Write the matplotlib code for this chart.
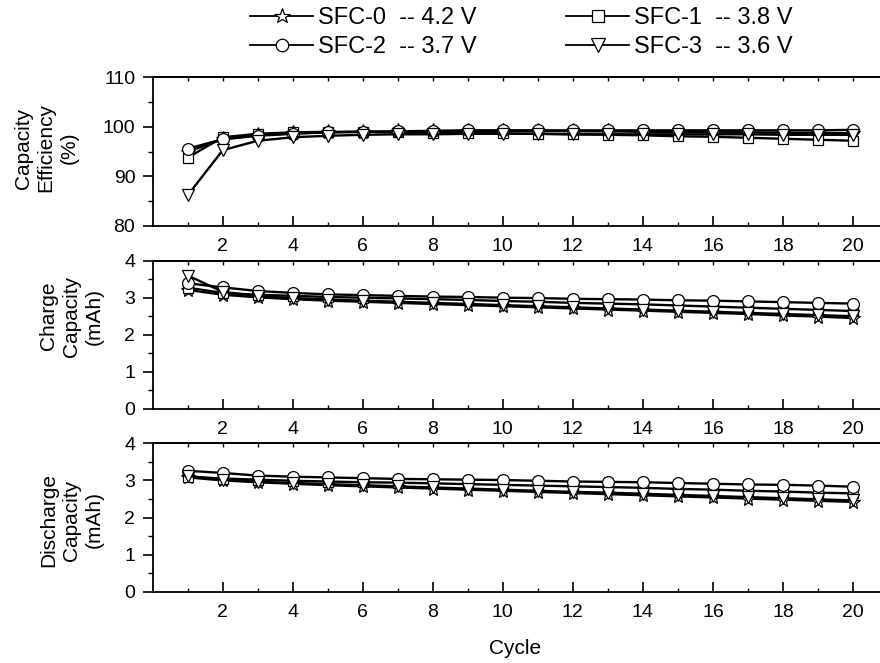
import matplotlib
matplotlib.use("Agg")
import matplotlib.pyplot as plt
from matplotlib.ticker import MultipleLocator, FixedLocator
from matplotlib.lines import Line2D

plt.rcParams['font.family'] = ['Liberation Sans', 'DejaVu Sans']

cycles = list(range(1, 21))
series_names = ["SFC-0  -- 4.2 V", "SFC-1  -- 3.8 V", "SFC-2  -- 3.7 V", "SFC-3  -- 3.6 V"]

eff_sfc0 = [95.0, 97.5, 98.3, 98.7, 98.9, 99.0, 99.1, 99.1, 99.2, 99.2,
            99.2, 99.1, 99.1, 99.0, 99.0, 98.9, 98.9, 98.8, 98.8, 98.7]
eff_sfc1 = [93.8, 97.9, 98.6, 98.9, 99.0, 99.0, 98.9, 98.8, 98.8, 98.7,
            98.6, 98.5, 98.4, 98.3, 98.1, 98.0, 97.8, 97.6, 97.4, 97.2]
eff_sfc2 = [95.6, 97.5, 98.2, 98.6, 98.9, 99.0, 99.1, 99.2, 99.3, 99.3,
            99.3, 99.3, 99.3, 99.3, 99.3, 99.3, 99.3, 99.3, 99.3, 99.4]
eff_sfc3 = [86.2, 95.3, 97.2, 97.9, 98.2, 98.4, 98.5, 98.5, 98.6, 98.6,
            98.6, 98.5, 98.5, 98.5, 98.5, 98.5, 98.5, 98.4, 98.4, 98.4]

chg_sfc0 = [3.21, 3.08, 3.01, 2.96, 2.92, 2.89, 2.86, 2.83, 2.80, 2.77,
            2.74, 2.71, 2.68, 2.65, 2.62, 2.59, 2.56, 2.52, 2.49, 2.45]
chg_sfc1 = [3.27, 3.13, 3.08, 3.05, 3.02, 3.00, 2.98, 2.96, 2.94, 2.91,
            2.89, 2.86, 2.84, 2.82, 2.79, 2.76, 2.73, 2.70, 2.67, 2.64]
chg_sfc2 = [3.39, 3.28, 3.18, 3.13, 3.09, 3.07, 3.05, 3.03, 3.02, 3.00,
            2.99, 2.97, 2.96, 2.95, 2.93, 2.92, 2.90, 2.88, 2.86, 2.84]
chg_sfc3 = [3.60, 3.16, 3.04, 2.99, 2.95, 2.92, 2.89, 2.86, 2.83, 2.80,
            2.77, 2.74, 2.71, 2.68, 2.65, 2.62, 2.59, 2.56, 2.53, 2.50]

dis_sfc0 = [3.08, 3.00, 2.95, 2.91, 2.87, 2.84, 2.81, 2.78, 2.75, 2.72,
            2.69, 2.66, 2.63, 2.60, 2.57, 2.54, 2.51, 2.48, 2.45, 2.42]
dis_sfc1 = [3.10, 3.05, 3.02, 2.99, 2.97, 2.95, 2.94, 2.92, 2.90, 2.88,
            2.86, 2.84, 2.82, 2.80, 2.77, 2.75, 2.72, 2.70, 2.67, 2.65]
dis_sfc2 = [3.26, 3.20, 3.13, 3.10, 3.08, 3.06, 3.04, 3.03, 3.02, 3.01,
            2.99, 2.97, 2.96, 2.95, 2.93, 2.91, 2.89, 2.88, 2.86, 2.83]
dis_sfc3 = [3.12, 3.02, 2.96, 2.93, 2.90, 2.87, 2.84, 2.81, 2.78, 2.75,
            2.72, 2.69, 2.67, 2.64, 2.61, 2.58, 2.55, 2.52, 2.49, 2.46]

panel_labels = ["Capacity\nEfficiency\n(%)", "Charge\nCapacity\n(mAh)", "Discharge\nCapacity\n(mAh)"]
x_label = "Cycle"

markers = ['*', 's', 'o', 'v']
msizes = [11, 7.5, 8.5, 9]

W, H = 880, 663
fig = plt.figure(figsize=(W / 100, H / 100), dpi=100)

def rect(top_px, bot_px, left_px=152.7, right_px=888):
    return [left_px / W, 1 - bot_px / H, (right_px - left_px) / W, (bot_px - top_px) / H]

axes = [fig.add_axes(rect(77.3, 226)), fig.add_axes(rect(260.7, 408.7)), fig.add_axes(rect(443.3, 591.7))]
data = [[eff_sfc0, eff_sfc1, eff_sfc2, eff_sfc3],
        [chg_sfc0, chg_sfc1, chg_sfc2, chg_sfc3],
        [dis_sfc0, dis_sfc1, dis_sfc2, dis_sfc3]]
ylims = [(80, 110), (0, 4), (0, 4)]
ymaj = [10, 1, 1]
ymin = [5, 0.5, 0.5]
label_pos = [(46, 148), (71, 316), (71, 520)]

FS = 14
for ax, d, yl, ym, yn, lab, lp in zip(axes, data, ylims, ymaj, ymin, panel_labels, label_pos):
    for k in range(4):
        ax.plot(cycles, d[k], color='black', lw=1.7, marker=markers[k], ms=msizes[k],
                mfc='white', mec='black', mew=0.9, zorder=3 + k)
    ax.set_xlim(0, 21)
    ax.set_ylim(*yl)
    ax.xaxis.set_major_locator(FixedLocator(list(range(2, 21, 2))))
    ax.xaxis.set_minor_locator(FixedLocator(list(range(1, 21, 2))))
    ax.yaxis.set_major_locator(MultipleLocator(ym))
    ax.yaxis.set_minor_locator(MultipleLocator(yn))
    ax.tick_params(axis='x', which='major', direction='in', length=7, width=1.2,
                   labelsize=FS, pad=8.5)
    ax.tick_params(axis='x', which='minor', direction='in', length=3, width=1.0)
    ax.tick_params(axis='y', which='major', direction='out', length=7, width=1.2,
                   labelsize=FS, pad=5.5)
    ax.tick_params(axis='y', which='minor', direction='out', length=3.5, width=1.0)
    for sp in ax.spines.values():
        sp.set_linewidth(1.3)
    sec = ax.secondary_xaxis('top')
    sec.xaxis.set_major_locator(FixedLocator(list(range(1, 21))))
    sec.tick_params(axis='x', direction='in', length=3, width=1.0, labeltop=False)
    sec.spines['top'].set_linewidth(1.3)
    fig.text(lp[0] / W, 1 - lp[1] / H, lab, rotation=90, ha='center', va='center',
             multialignment='center', fontsize=15, linespacing=1.25)

fig.text(515 / W, 1 - 649 / H, x_label, ha='center', va='center', fontsize=15)

handles = [Line2D([], [], color='black', lw=1.3, marker=markers[k], ms=msizes[k] + 0.5,
                  mfc='white', mec='black', mew=0.9) for k in range(4)]
order = [0, 2, 1, 3]
fig.legend([handles[i] for i in order], [series_names[i] for i in order],
           loc='upper left', bbox_to_anchor=(250 / W, 1 - 7 / H), ncol=2,
           frameon=False, fontsize=17, handlelength=2.67, handletextpad=0.2,
           columnspacing=3.8, labelspacing=0.3, borderpad=0, borderaxespad=0)

fig.savefig("out.png", dpi=100)
